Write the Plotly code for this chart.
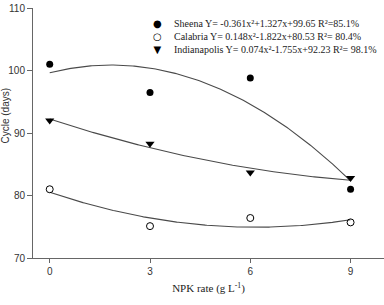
import numpy as np
import plotly.graph_objects as go

npk_rates = [0, 3, 6, 9]
sheena = [101.0, 96.5, 98.8, 81.0]
calabria = [81.0, 75.1, 76.4, 75.7]
indianapolis = [92.0, 88.3, 83.7, 82.8]

# regression coefficients (a, b, c) for Y = a x^2 + b x + c
sheena_fit = [-0.361, 1.327, 99.65]
calabria_fit = [0.148, -1.822, 80.53]
indianapolis_fit = [0.074, -1.755, 92.23]

labels = [
    "Sheena Y= -0.361x²+1.327x+99.65 R²=85.1%",
    "Calabria Y= 0.148x²-1.822x+80.53 R²= 80.4%",
    "Indianapolis Y= 0.074x²-1.755x+92.23 R²= 98.1%",
]
legend_symbols = ["●", "○", "▼"]

x_ticks = [0, 3, 6, 9]
y_ticks = [70, 80, 90, 100, 110]

fig = go.Figure()

xs = np.linspace(0, 9, 200)
for coef in [sheena_fit, calabria_fit, indianapolis_fit]:
    a, b, c = coef
    fig.add_trace(go.Scatter(x=xs, y=a * xs**2 + b * xs + c, mode="lines",
                             line=dict(color="#4a4a4a", width=1.1),
                             showlegend=False, hoverinfo="skip"))

markers = [
    dict(symbol="circle", size=7, color="black"),
    dict(symbol="circle-open", size=7, color="black", line=dict(width=1)),
    dict(symbol="triangle-down", size=8, color="black"),
]
for ys, lab, mk in zip([sheena, calabria, indianapolis], labels, markers):
    fig.add_trace(go.Scatter(x=npk_rates, y=ys, mode="markers", marker=mk,
                             name=lab, showlegend=False))

serif = "Liberation Serif, Times New Roman, serif"
axis_font = dict(family="Liberation Sans, Arial, sans-serif", size=10, color="#333")
fig.update_layout(
    width=384, height=305,
    margin=dict(l=33, r=0, t=8, b=47),
    paper_bgcolor="white", plot_bgcolor="white",
    showlegend=False,
    xaxis=dict(range=[-0.5, 10], tickvals=x_ticks, showgrid=False, zeroline=False,
               showline=True, linecolor="#666", linewidth=1, ticks="outside",
               ticklen=4, tickcolor="#666", tickfont=axis_font,
               title=dict(text="NPK rate (g L<sup>-1</sup>)",
                          font=dict(family=serif, size=11, color="#222"),
                          standoff=8)),
    yaxis=dict(range=[70, 110], tickvals=y_ticks, showgrid=False, zeroline=False,
               showline=True, linecolor="#666", linewidth=1, ticks="outside",
               ticklen=5, tickcolor="#666", tickfont=axis_font),
    annotations=[
        dict(text="Cycle (days)", textangle=-90, xref="paper", yref="paper",
             x=0, xshift=-28, xanchor="center", y=0.57, yanchor="middle",
             showarrow=False,
             font=dict(family="Liberation Sans, Arial, sans-serif", size=10, color="#333")),
        dict(text="<br>".join(legend_symbols), xref="paper", yref="paper",
             x=0.356, xanchor="center", y=0.967, yanchor="top", align="center",
             showarrow=False, font=dict(family="DejaVu Sans", size=10, color="black")),
        dict(text="<br>".join(labels), xref="paper", yref="paper",
             x=0.397, xanchor="left", y=0.967, yanchor="top", align="left",
             showarrow=False, font=dict(family=serif, size=10, color="#222")),
    ],
)

fig.write_html("out.html")
